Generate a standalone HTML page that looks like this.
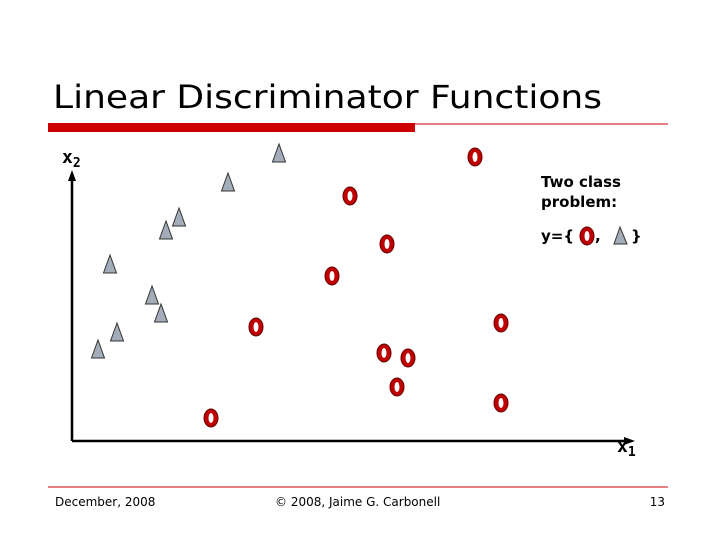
<!DOCTYPE html>
<html><head><meta charset="utf-8"><style>
body{margin:0;width:720px;height:540px;background:#fff;overflow:hidden;font-family:"Liberation Sans",sans-serif}
</style></head><body>
<svg width="720" height="540" xmlns="http://www.w3.org/2000/svg">
<text x="53" y="108" font-family="DejaVu Sans,sans-serif" font-size="32" textLength="549" lengthAdjust="spacingAndGlyphs" fill="#000">Linear Discriminator Functions</text>
<rect x="48" y="123" width="367" height="9" fill="#cc0000"/>
<line x1="415" y1="124" x2="668" y2="124" stroke="#cc0000" stroke-width="1"/>
<line x1="48" y1="487" x2="668" y2="487" stroke="#cc0000" stroke-width="1"/>
<text x="62" y="163" font-family="DejaVu Sans Mono,monospace" font-weight="bold" font-size="18">x<tspan font-size="13" dy="4">2</tspan></text>
<text x="617" y="452" font-family="DejaVu Sans Mono,monospace" font-weight="bold" font-size="18">x<tspan font-size="13" dy="4">1</tspan></text>
<line x1="72" y1="441" x2="72" y2="180" stroke="#000" stroke-width="2.5"/>
<polygon points="72,170 68,181 76,181" fill="#000"/>
<line x1="72" y1="441" x2="625" y2="441" stroke="#000" stroke-width="2.5"/>
<polygon points="635,441 624,437 624,445" fill="#000"/>
<g font-family="DejaVu Sans,sans-serif" font-weight="bold" font-size="15">
<text x="541" y="187">Two class</text>
<text x="541" y="207">problem:</text>
<text x="541" y="241">y={</text>
<text x="595" y="241">,</text>
<text x="631" y="241">}</text>
<ellipse cx="587" cy="236" rx="7" ry="9" fill="#c00000" stroke="#600" stroke-width="1"/>
<ellipse cx="587" cy="236" rx="2.5" ry="5" fill="#fff"/>
<polygon points="620,227 614,244 627,244" fill="#a3adb9" stroke="#333" stroke-width="1"/>
</g>
<g id="marks"></g>
<text x="55" y="506" font-size="12" font-family="DejaVu Sans,sans-serif">December, 2008</text>
<text x="275" y="506" font-size="12" font-family="DejaVu Sans,sans-serif">© 2008, Jaime G. Carbonell</text>
<text x="665" y="506" font-size="12" text-anchor="end" font-family="DejaVu Sans,sans-serif">13</text>
</svg>
<script>
const triX=[207,156,107,94,38,80,89,45,26];
const triY=[288,259,224,211,177,146,128,109,92];
const circX=[403,278,315,260,184,429,312,336,325,429,139];
const circY=[284,245,197,165,114,118,88,83,54,38,23];
const ox=72, oy=441;
function sx(v){return ox+v;}
function sy(v){return oy-v;}
const g=document.getElementById('marks');
const NS='http://www.w3.org/2000/svg';
for(let i=0;i<triX.length;i++){
  const x=sx(triX[i]), y=sy(triY[i]);
  const p=document.createElementNS(NS,'polygon');
  p.setAttribute('points',`${x},${y-9} ${x-6.5},${y+9} ${x+6.5},${y+9}`);
  p.setAttribute('fill','#a3adb9');p.setAttribute('stroke','#333');p.setAttribute('stroke-width','1');
  
  
  g.appendChild(p);
}
for(let i=0;i<circX.length;i++){
  const x=sx(circX[i]), y=sy(circY[i]);
  const e=document.createElementNS(NS,'ellipse');
  e.setAttribute('cx',x);e.setAttribute('cy',y);e.setAttribute('rx',7);e.setAttribute('ry',9);
  e.setAttribute('fill','#c00000');e.setAttribute('stroke','#600');e.setAttribute('stroke-width','1');
  
  
  g.appendChild(e);
  const h=document.createElementNS(NS,'ellipse');
  h.setAttribute('cx',x);h.setAttribute('cy',y);h.setAttribute('rx',2.5);h.setAttribute('ry',5);h.setAttribute('fill','#fff');
  
  
  g.appendChild(h);
}
</script>
</body></html>
